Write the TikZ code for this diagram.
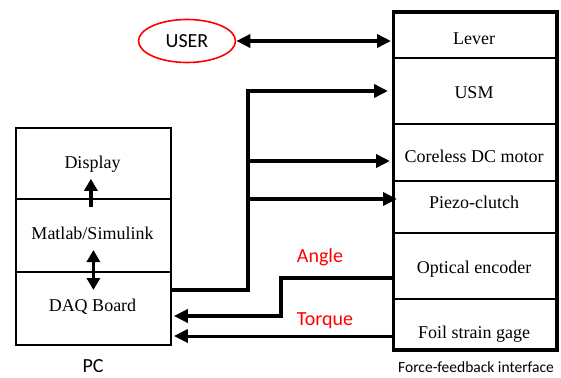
\documentclass[tikz,border=0pt]{standalone}
\usepackage{fontspec}
\setmainfont{Liberation Serif}
\newfontfamily\calibri{Carlito}
\usetikzlibrary{arrows.meta,shapes.geometric}
\begin{document}
\begin{tikzpicture}[x=1pt,y=-1pt,
  cellL/.style={draw, line width=1.8pt, rectangle, anchor=north west, inner sep=0pt, minimum width=155pt},
  cellR/.style={draw, line width=2pt, rectangle, anchor=north west, inner sep=0pt, minimum width=162pt},
  serif/.style={font=\fontsize{18}{20}\selectfont, anchor=base, inner sep=0pt},
  sans/.style={font=\calibri\fontsize{20}{22}\selectfont, inner sep=0pt},
  redsans/.style={sans, text=red, anchor=base},
  tip/.style={-{Triangle[length=14pt,width=13pt]}},
  bigline/.style={line width=3.6pt, line cap=butt},
  smallarrow/.style={line width=3.4pt, -{Triangle[length=12pt,width=13pt]}}
]
\useasboundingbox (0,0) rectangle (561,377);

% PC block
\node[cellL, minimum height=71pt] (display) at (15,127) {};
\node[cellL, minimum height=73pt] (matlab) at (15,198) {};
\node[cellL, minimum height=73pt] (daq) at (15,271) {};
\node[serif] (displayT) at (92.5,168) {Display};
\node[serif] (matlabT) at (92.5,239) {Matlab/Simulink};
\node[serif] (daqT) at (92.5,311) {DAQ Board};
\node[sans, anchor=base] (pc) at (93,372) {PC};

% Force-feedback interface block
\node[cellR, minimum height=45pt] (lever) at (393,12) {};
\node[cellR, minimum height=66pt] (usm) at (393,57) {};
\node[cellR, minimum height=57pt] (coreless) at (393,123) {};
\node[cellR, minimum height=52pt] (piezo) at (393,180) {};
\node[cellR, minimum height=66pt] (optical) at (393,232) {};
\node[cellR, minimum height=50pt] (foil) at (393,298) {};
\draw[line width=3pt] (lever.north west) rectangle (foil.south east);
\node[serif] (leverT) at (474,45) {Lever};
\node[serif] (usmT) at (474,99) {USM};
\node[serif] (corelessT) at (474,162) {Coreless DC motor};
\node[serif] (piezoT) at (474,208) {Piezo-clutch};
\node[serif] (opticalT) at (474,273) {Optical encoder};
\node[serif] (foilT) at (474,338) {Foil strain gage};
\node[font=\calibri\fontsize{15.5}{17}\selectfont, anchor=base, inner sep=0pt] (ffi) at (476,372) {Force-feedback interface};

% User
\node[ellipse, draw=red, line width=1.6pt, minimum width=97pt, minimum height=43pt, inner sep=0pt, font=\calibri\fontsize{20}{22}\selectfont] (user) at (187,41) {USER};

% User <-> Lever
\draw[bigline, {Triangle[length=14pt,width=13pt]}-{Triangle[length=14pt,width=13pt]}] (user.east) -- ([xshift=-2pt]lever.west |- user.east);

% Output tree
\coordinate (j0) at (248,290);
\coordinate (jt) at (248,91);
\coordinate (b1) at (248,161);
\coordinate (b2) at (248,199);
\draw[bigline, tip, line join=miter] (daq.east |- j0) -- (j0) -- (jt) -- ([xshift=-5pt]usm.west |- jt);
\draw[bigline, tip] (b1) -- ([xshift=-3pt]coreless.west |- b1);
\draw[bigline, tip] (b2) -- ([xshift=4pt]piezo.west |- b2);

% Angle
\coordinate (a1) at (281,278);
\coordinate (a2) at (281,316);
\draw[bigline, tip, line join=miter] (optical.west |- a1) -- (a1) -- (a2) -- ([xshift=2pt]daq.east |- a2);
\node[redsans] (angle) at (320,262) {Angle};

% Torque
\coordinate (t1) at (300,336);
\draw[line width=3pt, tip] (foil.west |- t1) -- ([xshift=2pt]daq.east |- t1);
\node[redsans] (torque) at (325,325) {Torque};

% Internal PC arrows
\draw[smallarrow] ([xshift=-2.5pt,yshift=-9pt]matlab.north) -- ([xshift=-2.5pt,yshift=21pt]display.south);
\draw[line width=3.4pt, {Triangle[length=12pt,width=13pt]}-{Triangle[length=12pt,width=13pt]}] ([yshift=21pt]daq.north) -- ([yshift=-19pt]daq.north);
\end{tikzpicture}
\end{document}
